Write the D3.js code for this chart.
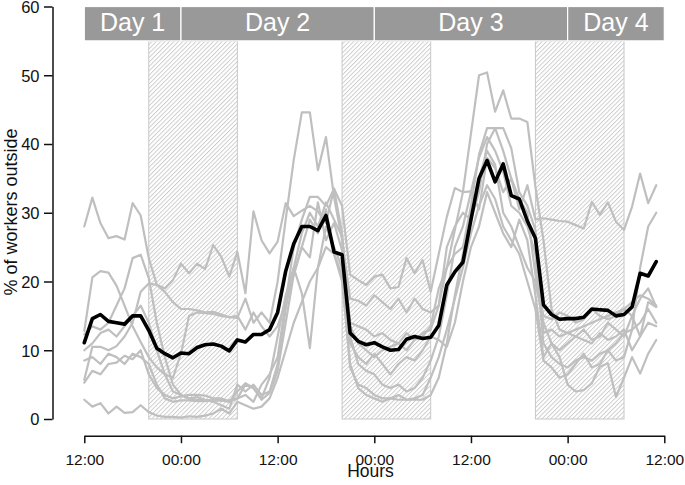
<!DOCTYPE html>
<html>
<head>
<meta charset="utf-8">
<script src="https://cdn.jsdelivr.net/npm/d3@7"></script>
<style>
  html, body { margin: 0; padding: 0; background: #fff; }
  svg { display: block; font-family: "Liberation Sans", Arial, Helvetica, sans-serif; }
</style>
</head>
<body>
<svg id="chart" width="685" height="485"></svg>
<script>
// ---- data (hourly values, hour 0 = 12:00 on day 1) ----
const xTickHours = [0, 12, 24, 36, 48, 60, 72];
const xTickLabels = ["12:00", "00:00", "12:00", "00:00", "12:00", "00:00", "12:00"];
const yTicks = [0, 10, 20, 30, 40, 50, 60];

const dayLabels = ["Day 1", "Day 2", "Day 3", "Day 4"];
const dayStart = [0, 12, 36, 60];
const dayEnd = [12, 36, 60, 72];

const nightStart = [8, 32, 56];
const nightEnd = [19, 43, 67];

const meanSeries = [11.1,14.6,15.2,14.2,14.0,13.8,15.0,15.0,
 12.9,10.3,9.5,8.9,9.6,9.5,10.4,10.8,10.9,10.6,9.9,11.5,
 11.2,12.3,12.3,13.0,15.5,21.5,25.5,28.0,28.0,27.4,29.6,24.3,
 23.9,12.5,11.3,10.8,11.1,10.5,10.0,10.1,11.6,12.0,11.7,11.9,
 13.6,19.5,21.4,22.8,29.0,35.0,37.6,34.5,37.1,32.5,32.0,28.8,
 26.3,16.6,15.2,14.5,14.6,14.6,14.8,16.0,15.9,15.8,15.0,15.2,
 16.3,21.2,20.8,22.9];

const g1 = [28.0,32.2,28.5,26.3,26.6,26.1,31.4,29.6,
 23.4,19.5,19.0,20.2,22.6,21.2,22.6,21.8,25.3,23.6,20.7,24.3,
 18.3,30.2,26.0,24.1,25.8,31.4,29.5,30.3,31.0,30.2,28.5,33.5,
 31.0,21.0,20.2,19.5,20.7,21.0,19.0,19.2,23.4,21.2,23.1,18.5,
 24.0,29.4,33.6,33.0,33.1,30.5,38.0,36.5,33.0,35.0,30.5,34.0,
 29.0,29.2,29.0,28.8,28.7,28.2,27.7,31.6,29.7,31.5,28.7,27.5,
 30.9,35.7,31.4,34.0];

const g2 = [12.8,20.6,21.5,21.3,19.4,16.5,13.5,11.2,
 9.0,7.5,6.5,6.0,9.5,15.0,15.5,15.4,15.3,15.0,14.8,14.7,
 17.5,14.0,15.5,14.0,20.0,29.0,37.7,44.6,44.6,36.2,41.0,32.3,
 26.0,17.5,17.2,16.5,18.0,17.0,16.0,17.5,15.5,17.5,16.0,15.5,
 16.5,22.0,27.5,33.0,41.5,50.0,50.4,44.7,47.8,43.7,43.7,43.2,
 33.8,26.0,16.0,13.0,12.5,13.0,13.5,14.0,14.5,15.0,15.5,16.0,
 15.0,17.5,19.0,16.3];

const g3 = [12.3,13.5,13.0,14.0,16.5,19.0,23.4,23.9,
 20.5,14.0,9.0,5.0,3.5,3.0,2.8,2.7,2.7,2.7,2.7,3.0,
 5.0,4.5,3.0,6.0,12.0,18.0,22.0,27.0,30.0,28.0,31.5,29.0,
 26.5,12.0,8.0,7.0,6.5,5.0,4.5,5.0,4.0,4.5,6.0,8.5,
 12.0,18.0,25.0,28.0,33.0,38.0,41.0,39.0,36.0,31.0,30.0,28.0,
 24.0,11.0,9.0,8.0,7.5,8.5,9.0,8.5,9.5,10.0,8.5,9.0,
 13.0,22.0,28.0,30.0];

const g4 = [5.7,10.5,10.5,10.0,10.6,12.0,14.0,18.5,
 19.7,19.5,18.5,17.0,16.0,16.0,15.8,15.5,15.6,15.2,14.8,15.0,
 13.0,15.5,13.5,12.0,13.5,17.0,21.0,25.0,23.5,31.5,26.0,28.5,
 24.5,14.0,13.5,13.0,12.0,12.5,11.5,11.0,12.5,11.5,12.5,13.0,
 16.5,25.0,28.0,30.0,29.0,33.0,40.0,42.3,42.3,39.4,33.0,31.0,
 27.5,12.5,13.0,12.0,12.5,12.0,11.5,11.0,12.5,11.5,12.0,13.0,
 10.0,12.0,17.0,16.3];

const g5 = [5.3,7.0,6.5,8.0,8.2,9.2,8.7,10.0,
 6.5,4.5,3.5,3.0,3.3,3.5,3.5,3.4,3.0,3.0,2.5,4.0,
 5.2,4.5,2.8,3.8,7.0,14.0,21.0,25.0,29.0,27.0,30.5,24.0,
 21.0,7.5,5.0,4.5,3.5,3.0,3.0,3.5,2.8,2.8,2.8,3.5,
 6.0,11.0,18.0,24.0,29.0,35.0,39.0,37.0,30.0,28.0,25.0,22.0,
 20.0,14.0,11.0,9.0,5.0,4.0,4.2,5.2,7.6,8.1,3.2,6.0,
 9.0,6.6,9.5,11.5];

const g6 = [2.8,1.8,2.3,0.8,1.8,0.9,1.0,2.0,
 1.0,0.5,0.3,0.3,0.2,0.4,0.3,0.5,0.8,1.5,0.8,2.5,
 2.0,1.5,1.8,3.0,6.0,10.0,14.0,17.0,20.0,22.0,25.0,24.0,
 20.0,8.0,4.5,3.5,3.0,2.5,3.0,2.8,2.8,3.0,3.5,6.0,
 9.0,13.0,17.5,22.0,27.0,31.0,34.0,32.0,28.0,26.0,24.0,20.0,
 16.0,8.5,7.5,6.0,6.5,8.0,9.5,7.5,8.0,10.0,11.0,12.5,
 13.0,14.0,16.0,14.0];

const g7 = [10.0,11.0,12.5,13.0,12.0,13.5,15.0,16.5,
 14.0,10.0,6.5,4.0,3.5,3.0,3.2,2.8,2.5,2.0,1.5,5.0,
 4.0,5.0,3.5,4.0,8.0,16.0,22.0,18.3,10.3,22.0,28.0,25.0,
 22.0,11.0,9.0,8.0,9.5,8.0,6.5,8.0,9.0,8.5,10.0,12.0,
 11.5,10.5,14.0,20.0,25.0,28.0,33.0,30.0,27.0,25.0,29.0,26.0,
 18.0,9.0,11.0,10.0,11.0,12.0,13.0,11.5,12.0,14.0,13.0,12.0,
 15.0,12.0,14.0,13.5];

const g8 = [8.5,9.0,8.0,9.5,9.0,8.0,9.5,9.0,
 8.0,5.0,3.0,2.5,2.7,2.7,2.6,2.6,2.7,2.7,2.5,3.0,
 3.5,2.5,5.0,6.5,9.0,17.0,25.0,29.0,32.3,32.3,31.0,33.5,
 27.0,13.5,11.0,10.0,9.0,10.0,10.5,11.0,10.0,11.5,12.0,13.5,
 19.0,22.0,24.0,25.0,31.0,38.5,42.3,42.3,39.0,35.0,32.0,30.0,
 21.0,15.0,14.5,15.5,15.0,14.0,14.5,16.0,15.0,14.5,15.0,16.0,
 17.0,18.0,17.5,16.5];

const graySeries = [g1, g2, g3, g4, g5, g6, g7, g8];

// ---- drawing ----
const svg = d3.select("#chart");
svg.append("rect").attr("width", 685).attr("height", 485).attr("fill", "#fff");

const x = d3.scaleLinear().domain([0, 72]).range([84.3, 664.3]);
const y = d3.scaleLinear().domain([0, 60]).range([419, 6.5]);

// hatch pattern
const defs = svg.append("defs");
const pat = defs.append("pattern")
  .attr("id", "hatch")
  .attr("patternUnits", "userSpaceOnUse")
  .attr("width", 3.1).attr("height", 3.1)
  .attr("patternTransform", "rotate(45)");
pat.append("line")
  .attr("x1", 0.5).attr("y1", 0).attr("x2", 0.5).attr("y2", 3.1)
  .attr("stroke", "#c2c2c2").attr("stroke-width", 0.8);

// night bands
svg.append("g").selectAll("rect")
  .data(nightStart.map((s, i) => ({ s, e: nightEnd[i] })))
  .join("rect")
  .attr("x", d => x(d.s))
  .attr("y", y(55))
  .attr("width", d => x(d.e) - x(d.s))
  .attr("height", y(0) - y(55))
  .attr("fill", "url(#hatch)")
  .attr("stroke", "#c8c8c8")
  .attr("stroke-width", 1);

// day header
const dayG = svg.append("g");
const dayData = dayLabels.map((l, i) => ({ l, s: dayStart[i], e: dayEnd[i] }));
dayG.selectAll("rect")
  .data(dayData)
  .join("rect")
  .attr("x", d => x(d.s))
  .attr("y", y(60))
  .attr("width", d => x(d.e) - x(d.s))
  .attr("height", y(55) - y(60))
  .attr("fill", "#999999")
  .attr("stroke", "#ffffff")
  .attr("stroke-width", 1.2);
dayG.selectAll("text")
  .data(dayData)
  .join("text")
  .attr("x", d => (x(d.s) + x(d.e)) / 2)
  .attr("y", 31)
  .attr("text-anchor", "middle")
  .attr("fill", "#ffffff")
  .attr("font-size", 25)
  .text(d => d.l);

// lines
const line = d3.line()
  .x((d, i) => x(i))
  .y(d => y(d));

svg.append("g").selectAll("path")
  .data(graySeries)
  .join("path")
  .attr("d", line)
  .attr("fill", "none")
  .attr("stroke", "#bfbfbf")
  .attr("stroke-width", 2.2)
  .attr("stroke-linejoin", "round")
  .attr("stroke-linecap", "round");

svg.append("path")
  .datum(meanSeries)
  .attr("d", line)
  .attr("fill", "none")
  .attr("stroke", "#000")
  .attr("stroke-width", 3.6)
  .attr("stroke-linejoin", "round")
  .attr("stroke-linecap", "round");

// axes
const yAxis = svg.append("g")
  .attr("transform", "translate(52.5,0)")
  .call(d3.axisLeft(y).tickValues(yTicks).tickSize(8.5).tickSizeOuter(0).tickPadding(4.5));
yAxis.selectAll("text").attr("font-size", 16.5).attr("fill", "#111")
  .attr("font-family", null).attr("dy", "0.36em");
yAxis.selectAll("path, line").attr("stroke", "#111").attr("stroke-width", 1.5);

const xAxis = svg.append("g")
  .attr("transform", "translate(0,435.7)")
  .call(d3.axisBottom(x).tickValues(xTickHours).tickSize(7.5).tickSizeOuter(0)
    .tickFormat((d, i) => xTickLabels[i]));
xAxis.selectAll("text").attr("font-size", 15.5).attr("fill", "#111")
  .attr("font-family", null).attr("y", 29).attr("dy", 0);
xAxis.selectAll("path, line").attr("stroke", "#111").attr("stroke-width", 1.5);

// axis titles
svg.append("text")
  .attr("x", 370.5).attr("y", 476.5)
  .attr("text-anchor", "middle")
  .attr("font-size", 17.5)
  .attr("fill", "#111")
  .text("Hours");

svg.append("text")
  .attr("transform", "translate(17,212) rotate(-90)")
  .attr("text-anchor", "middle")
  .attr("font-size", 18)
  .attr("fill", "#111")
  .text("% of workers outside");
</script>
</body>
</html>
